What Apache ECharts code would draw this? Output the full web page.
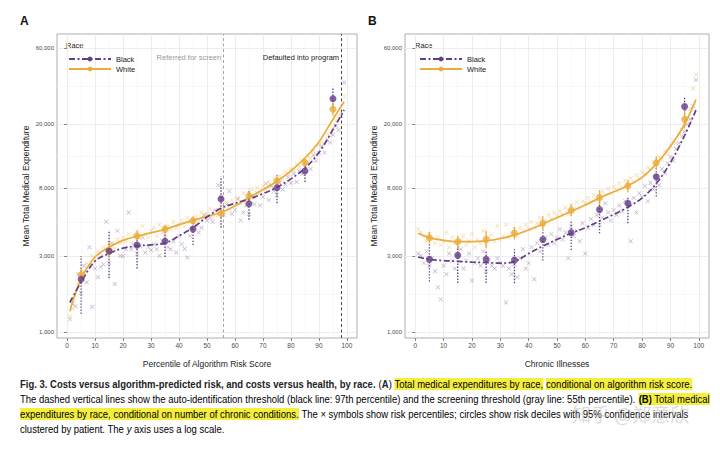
<!DOCTYPE html>
<html><head><meta charset="utf-8">
<script src="https://cdn.jsdelivr.net/npm/echarts@6/dist/echarts.min.js"></script>
<style>html,body{margin:0;padding:0;background:#fff}#c{width:720px;height:449px}</style>
</head><body><div id="c"></div>
<script>
// ---------- data ----------
const xTicks = [0,10,20,30,40,50,60,70,80,90,100];
const xMinor = [5,15,25,35,45,55,65,75,85,95];
const yTicks = [1000,3000,8000,20000,60000];
const yMinor = [1732,4899,12649,34641];
const decileX = [5,15,25,35,45,55,65,75,85,95];
const pctX = Array.from({length:99},(_,i)=>i+1);
const fitX = [1,5,10,15,20,25,30,35,40,45,50,55,60,65,70,75,80,85,90,95,99];

// Panel A: conditional on algorithm risk score
const blackA_dec = [2140,3200,3500,3700,4420,6800,6360,8010,10190,28900];
const blackA_lo  = [1300,2170,2500,2950,3500,4500,5050,6400,8700,25300];
const blackA_hi  = [2990,4250,4000,4400,5100,9400,7800,9600,11200,33500];
const whiteA_dec = [2280,3260,3990,4400,4980,5540,7110,8820,11500,24800];
const whiteA_lo  = [2050,2950,3700,4100,4700,5250,6700,8300,10800,22600];
const whiteA_hi  = [2520,3600,4300,4700,5300,5850,7550,9400,12200,27200];
const blackA_fit = [1530,2050,2780,3100,3350,3460,3510,3600,4000,4500,5250,5950,6400,6800,7350,8050,9100,10600,13300,18500,24600];
const whiteA_fit = [1350,2150,2950,3400,3750,3980,4180,4400,4700,5000,5300,5600,6150,6950,7800,8800,10200,12300,15500,21500,27700];
const blackA_pct = [1200,1500,1450,2300,1750,2600,2050,3400,1440,2500,2200,2550,2650,4900,2700,3600,2000,4300,3000,2990,
  3300,5600,3300,3500,3100,3450,3900,3150,3400,3250,3550,3300,3000,3700,3900,3400,3300,3700,3150,4000,
  3550,3320,2930,4000,4300,4700,4200,4500,5400,5000,5200,4900,5800,8300,7000,5400,6300,7600,5500,5800,
  6800,5000,5600,6200,5500,7100,6300,7400,6200,7000,8500,6700,8200,7600,7200,8600,7800,8400,9300,8600,
  9800,8700,10200,9800,10800,11500,10500,12800,11800,13200,14500,13300,16000,15400,17200,19500,18400,22500,36500];
const whiteA_pct = [1250,1400,1700,2000,2100,2400,2700,2600,3000,2800,3200,3100,3400,3300,3600,3500,3300,3800,3600,3900,
  3700,4100,3600,4000,4300,3900,4600,4100,3900,4300,4500,4000,4700,4200,4500,4600,4400,4900,4500,4700,
  5000,4600,5200,4900,5100,5300,5000,5600,5200,5500,5900,5200,5700,5400,6100,5600,6500,5900,6700,6300,
  6900,6400,7400,6600,7300,7800,7000,8000,7500,8200,7800,8700,8300,9200,8500,9500,9000,10100,9600,10500,
  10200,11300,10800,12000,11500,12700,12200,13600,13000,14800,15500,15000,17500,16800,19000,21000,22500,24000,30000];

// Panel B: conditional on number of chronic conditions
const blackB_dec = [2850,3020,2850,2820,3800,4190,5840,6400,9380,25800];
const blackB_lo  = [2070,2030,2030,2020,2800,3260,4150,4800,7050,21200];
const blackB_hi  = [3590,3460,3260,3300,4350,5030,6550,7050,10600,29800];
const whiteB_dec = [3890,3670,3800,4150,4800,5760,6940,8210,11480,21500];
const whiteB_lo  = [3600,3350,3350,3800,4350,5300,6250,7500,10500,18800];
const whiteB_hi  = [4250,4000,4300,4550,5300,6300,7750,9000,12600,24500];
const blackB_fit = [2950,2850,2800,2770,2740,2720,2700,2760,3100,3450,3800,4150,4500,4950,5450,6050,6900,8500,11500,17000,24500];
const whiteB_fit = [4150,3900,3750,3680,3680,3720,3850,4050,4350,4750,5200,5700,6250,6900,7550,8250,9300,11300,14500,20000,28500];
const blackB_pct = [3100,3000,2700,3200,2600,2900,2400,1900,1600,2600,2300,3100,2800,2500,3000,3300,2500,2800,3100,2100,
  2700,2900,2600,3200,2400,2800,2600,2500,2900,2700,2600,1530,2500,2300,2650,2200,2900,3300,2500,2700,
  3400,2140,3600,3200,3700,3900,3500,4100,3600,3900,4400,3800,4200,2900,4600,4000,4300,3700,4800,3100,
  4500,5100,4700,5400,4700,5200,6400,5600,5000,5800,5400,6200,5700,6600,6200,3700,6900,5600,7400,7000,
  8200,6600,8600,7800,9400,8300,10500,9900,11400,12500,11800,14000,15200,16800,18000,20000,21500,26000,38000];
const whiteB_pct = [4400,4200,4000,3700,4100,3800,3600,3900,3500,3700,4200,3400,3900,3600,3300,3800,4000,3500,3700,4100,
  3400,3800,3600,4300,3500,3900,4100,3700,4600,3800,4000,4700,3900,4200,4400,4000,4500,4300,4700,4400,
  4900,4500,4800,5200,4700,5000,5400,5100,5600,5300,5700,5400,6000,5500,6200,5900,6500,6000,6600,6400,
  6900,6500,7200,6700,7100,7600,7200,7900,7400,8100,7700,8500,8000,8900,8400,9200,8700,9600,9200,10000,
  9700,10700,10400,11600,11200,12500,12000,13500,13000,14800,15800,15200,17500,18500,20000,22000,25000,33500,41000];

const thresholds = [55.8, 97.9];
const thresholdLabels = ['Referred for screen','Defaulted into program'];

// ---------- styling ----------
const PURPLE = '#633d86', ORANGE = '#ebac3c';
const FONT = 'Liberation Sans, Arial, sans-serif';
const CROSS = 'path://M1,0L5,4L9,0L10,1L6,5L10,9L9,10L5,6L1,10L0,9L4,5L0,1Z';
const zip = (xs, ys) => xs.map((x,i)=>[x, ys[i]]);
const fmt = v => Math.round(v).toLocaleString('en-US');

function xAxes(grid, name) {
  return [
    {gridIndex:grid, type:'value', min:-3.6, max:103.6, name:name, nameLocation:'middle', nameGap:21,
     nameTextStyle:{fontSize:8.5, color:'#222', fontFamily:FONT},
     axisLine:{show:false},
     axisTick:{show:true, customValues:xTicks, length:3, lineStyle:{color:'#555', width:0.7}},
     axisLabel:{customValues:xTicks, fontSize:6.5, color:'#4d4d4d', margin:4, fontFamily:FONT},
     splitLine:{show:true, lineStyle:{color:'#ebebeb', width:0.9}}},
    {gridIndex:grid, type:'value', min:-3.6, max:103.6, axisLine:{show:false},
     axisTick:{show:false, customValues:xMinor}, axisLabel:{show:false},
     splitLine:{show:true, lineStyle:{color:'#f4f4f4', width:0.6}}}
  ];
}
function yAxes(grid) {
  return [
    {gridIndex:grid, type:'log', logBase:10, min:917, max:73500, name:'Mean Total Medical Expenditure',
     nameLocation:'middle', nameGap:27, nameRotate:90,
     nameTextStyle:{fontSize:8.5, color:'#222', fontFamily:FONT},
     axisLine:{show:false},
     axisTick:{show:true, customValues:yTicks, length:3, lineStyle:{color:'#555', width:0.7}},
     axisLabel:{customValues:yTicks, fontSize:6, color:'#4d4d4d', margin:3, formatter:fmt, fontFamily:FONT},
     splitLine:{show:true, lineStyle:{color:'#ebebeb', width:0.9}}},
    {gridIndex:grid, type:'log', logBase:10, min:917, max:73500, axisLine:{show:false},
     axisTick:{show:false, customValues:yMinor}, axisLabel:{show:false},
     splitLine:{show:true, lineStyle:{color:'#f4f4f4', width:0.6}}}
  ];
}
function errSeries(name, xi, yi, lo, hi, color, dash, width) {
  return {type:'custom', name:name, xAxisIndex:xi, yAxisIndex:yi, silent:true, z:4,
    data: decileX.map((x,i)=>[x, lo[i], hi[i]]),
    encode:{x:0, y:[1,2]},
    renderItem:(params, api)=>{
      const p1 = api.coord([api.value(0), api.value(1)]);
      const p2 = api.coord([api.value(0), api.value(2)]);
      return {type:'line', shape:{x1:p1[0], y1:p1[1], x2:p2[0], y2:p2[1]},
        style:{stroke:color, lineWidth:width, lineDash:dash}};
    }};
}
function panelSeries(xi, yi, bDec, bLo, bHi, wDec, wLo, wHi, bFit, wFit, bPct, wPct, extra) {
  return [
    Object.assign({type:'scatter', name:'Black percentiles', xAxisIndex:xi, yAxisIndex:yi, silent:true, z:2,
      symbol:CROSS, symbolSize:4.5, itemStyle:{color:'#8a74a3', opacity:0.55}, data:zip(pctX, bPct)}, extra || {}),
    {type:'scatter', name:'White percentiles', xAxisIndex:xi, yAxisIndex:yi, silent:true, z:2,
      symbol:CROSS, symbolSize:4.5, itemStyle:{color:'#f0bf68', opacity:0.6}, data:zip(pctX, wPct)},
    errSeries('Black CI', xi, yi, bLo, bHi, PURPLE, [1.4,1.6], 1.3),
    errSeries('White CI', xi, yi, wLo, wHi, ORANGE, null, 1.3),
    {type:'line', name:'White', xAxisIndex:xi, yAxisIndex:yi, smooth:0.35, silent:true, z:5,
      symbol:'circle', symbolSize:5, showSymbol:false, color:ORANGE,
      lineStyle:{color:ORANGE, width:1.7}, data:zip(fitX, wFit)},
    {type:'line', name:'Black', xAxisIndex:xi, yAxisIndex:yi, smooth:0.35, silent:true, z:5,
      symbol:'circle', symbolSize:5, showSymbol:false, color:PURPLE,
      lineStyle:{color:PURPLE, width:1.7, type:[6,2.5,2,2.5]}, data:zip(fitX, bFit)},
    {type:'scatter', name:'White deciles', xAxisIndex:xi, yAxisIndex:yi, silent:true, z:6,
      symbol:'circle', symbolSize:7, itemStyle:{color:ORANGE}, data:zip(decileX, wDec)},
    {type:'scatter', name:'Black deciles', xAxisIndex:xi, yAxisIndex:yi, silent:true, z:6,
      symbol:'circle', symbolSize:7, itemStyle:{color:PURPLE}, data:zip(decileX, bDec)}
  ];
}

const thresholdExtra = {
  markLine:{silent:true, symbol:['none','none'], label:{show:false},
    data:[{xAxis:thresholds[0], lineStyle:{color:'#9a9a9a', type:[3,2.5], width:0.9}},
          {xAxis:thresholds[1], lineStyle:{color:'#333', type:[3,2.5], width:0.9}}]},
  markPoint:{silent:true, symbol:'circle', symbolSize:0,
    data:[{coord:[thresholds[0], 52000], label:{show:true, formatter:thresholdLabels[0], position:'left', distance:2, color:'#999', fontSize:7.5, fontFamily:FONT}},
          {coord:[thresholds[1], 52000], label:{show:true, formatter:thresholdLabels[1], position:'left', distance:2, color:'#222', fontSize:7.5, fontFamily:FONT}}]}
};

const legendCommon = {data:['Black','White'], orient:'vertical', itemWidth:42, itemHeight:6, itemGap:2,
  selectedMode:false, textStyle:{fontSize:7.5, color:'#222', fontFamily:FONT, lineHeight:8}, padding:0};

// ---------- caption ----------
const CAP_FONT = 'Liberation Sans';
const CAP_SIZE = 11;
const capRich = {
  b:{fontWeight:'bold', fontSize:CAP_SIZE, fontFamily:CAP_FONT, fill:'#222', color:'#222'},
  h:{backgroundColor:'#f4ee3c', fontSize:CAP_SIZE, fontFamily:CAP_FONT, color:'#222', padding:[1,0,0,0]},
  hb:{backgroundColor:'#f4ee3c', fontWeight:'bold', fontSize:CAP_SIZE, fontFamily:CAP_FONT, color:'#222', padding:[1,0,0,0]},
  i:{fontStyle:'italic', fontSize:CAP_SIZE, fontFamily:CAP_FONT, color:'#222'},
  n:{fontSize:CAP_SIZE, fontFamily:CAP_FONT, color:'#222'}
};
const capLines = [
  '{b|Fig. 3. Costs versus algorithm-predicted risk, and costs versus health, by race.}{n| (}{b|A}{n|) }{h|Total medical expenditures by race,}{n| }{h|conditional on algorithm risk score.}',
  '{n|The dashed vertical lines show the auto-identification threshold (black line: 97th percentile) and the screening threshold (gray line: 55th percentile). }{hb|(B)}{h| Total medical}',
  '{h|expenditures by race, conditional on number of chronic conditions.}{n| The × symbols show risk percentiles; circles show risk deciles with 95% confidence intervals}',
  '{n|clustered by patient. The }{i|y}{n| axis uses a log scale.}'
];
function measureRich(str) {
  const ctx = document.createElement('canvas').getContext('2d');
  let w = 0; const re = /\{(\w+)\|([^}]*)\}/g; let m;
  while ((m = re.exec(str))) {
    const st = capRich[m[1]];
    ctx.font = (st.fontStyle === 'italic' ? 'italic ' : '') + (st.fontWeight === 'bold' ? 'bold ' : '') + CAP_SIZE + 'px "' + CAP_FONT + '"';
    w += ctx.measureText(m[2]).width;
  }
  return w;
}
const capScale = 690 / measureRich(capLines[1]);

const chart = echarts.init(document.getElementById('c'), null, {renderer:'svg'});
chart.setOption({
  animation:false,
  backgroundColor:'#fff',
  grid:[
    {left:57, top:34, width:300, height:304, show:true, borderColor:'#999', borderWidth:0.8, backgroundColor:'#fff'},
    {left:405, top:34, width:304, height:304, show:true, borderColor:'#999', borderWidth:0.8, backgroundColor:'#fff'}
  ],
  xAxis:[...xAxes(0,'Percentile of Algorithm Risk Score'), ...xAxes(1,'Chronic Illnesses')],
  yAxis:[...yAxes(0), ...yAxes(1)],
  legend:[
    Object.assign({left:68, top:55}, legendCommon),
    Object.assign({left:419, top:55}, legendCommon)
  ],
  series:[
    ...panelSeries(0, 0, blackA_dec, blackA_lo, blackA_hi, whiteA_dec, whiteA_lo, whiteA_hi, blackA_fit, whiteA_fit, blackA_pct, whiteA_pct, thresholdExtra),
    ...panelSeries(2, 2, blackB_dec, blackB_lo, blackB_hi, whiteB_dec, whiteB_lo, whiteB_hi, blackB_fit, whiteB_fit, blackB_pct, whiteB_pct, null)
  ],
  graphic:[
    {type:'text', left:20, top:15, style:{text:'A', fontSize:12, fontWeight:'bold', fill:'#111', fontFamily:FONT}},
    {type:'text', left:368, top:15, style:{text:'B', fontSize:12, fontWeight:'bold', fill:'#111', fontFamily:FONT}},
    {type:'text', left:66, top:41, style:{text:'Race', fontSize:7.5, fill:'#222', fontFamily:FONT}},
    {type:'text', left:415, top:41, style:{text:'Race', fontSize:7.5, fill:'#222', fontFamily:FONT}},
    ...capLines.map((t,i)=>({type:'text', x:20, y:384 + i*15, scaleX:capScale, originX:0,
      style:{text:t, rich:capRich, fontSize:CAP_SIZE, fontFamily:CAP_FONT, verticalAlign:'middle'}})),
    {type:'text', x:572, y:413, z:100, style:{text:'知乎 @郑意欣', fontSize:19, fill:'rgba(185,185,185,0.5)', fontFamily:'Noto Sans CJK SC', verticalAlign:'middle'}}
  ]
});
</script>
</body></html>
